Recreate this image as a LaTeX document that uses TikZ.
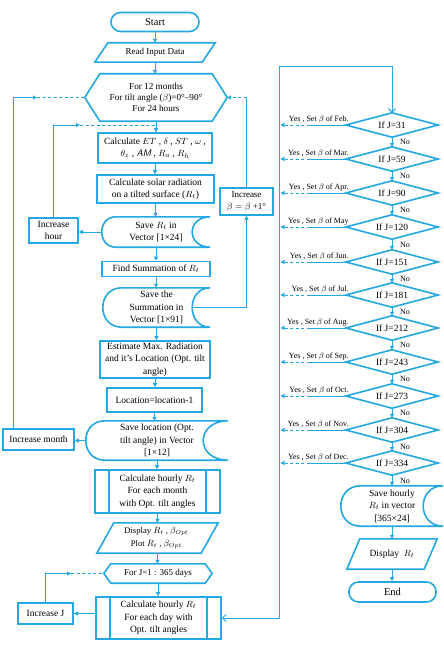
\documentclass[tikz,border=0pt]{standalone}
\usepackage{fontspec}
\setmainfont{Liberation Serif}
\usetikzlibrary{calc,arrows.meta}
\definecolor{fc}{RGB}{35,168,226}
\tikzset{
  shp/.style={draw=fc,line width=1.6pt},
  tx/.style={inner sep=0pt,align=center},
  box/.style={tx,shp},
  term/.style={tx,shp,rounded corners=9.5pt,font=\fontsize{10.5}{12}\selectfont},
  conn/.style={draw=fc,line width=1pt},
  arr/.style={conn,-{Triangle[length=4pt,width=4pt]}},
  dsh/.style={dash pattern=on 3pt off 2.5pt},
  yeslab/.style={inner sep=0pt,font=\fontsize{8}{9}\selectfont},
  nolab/.style={inner sep=0pt,font=\fontsize{8}{9}\selectfont},
}
\newcommand{\hexshape}[2]{\draw[shp] (#1.west) -- ($(#1.north west)+(#2,0)$) -- ($(#1.north east)+(-#2,0)$) -- (#1.east) -- ($(#1.south east)+(-#2,0)$) -- ($(#1.south west)+(#2,0)$) -- cycle;}
\newcommand{\paral}[2]{\draw[shp] (#1.south west) -- ($(#1.north west)+(#2,0)$) -- (#1.north east) -- ($(#1.south east)+(-#2,0)$) -- cycle;}
\newcommand{\storeshape}[3]{\draw[shp] ($(#1.north west)+(#2,0)$) -- (#1.north east) .. controls +(-#3*1.333,0) and +(-#3*1.333,0) .. (#1.south east) -- ($(#1.south west)+(#2,0)$) .. controls +(-#2*1.333,0) and +(-#2*1.333,0) .. ($(#1.north west)+(#2,0)$) -- cycle;}
\newcommand{\procshape}[2]{\draw[shp] ($(#1.north west)+(#2,0)$) -- ($(#1.south west)+(#2,0)$) ($(#1.north east)+(-#2,0)$) -- ($(#1.south east)+(-#2,0)$);}
\newcommand{\diam}[1]{\draw[shp] (#1.west) -- (#1.north) -- (#1.east) -- (#1.south) -- cycle;}
\newcommand{\vdown}[2]{\draw[arr] (#1.south) -- (#1.south |- #2.north);}
\begin{document}
\begin{tikzpicture}[x=1pt,y=-1pt,font=\fontsize{9.5}{12.5}\selectfont]
\useasboundingbox (0,0) rectangle (444,661);
% ---------- left column ----------
\node[term,minimum width=88pt,minimum height=19pt] (start) at (155,22) {Start};
\node[tx,minimum width=120pt,minimum height=19pt,font=\fontsize{9}{11}\selectfont] (read) at (155,52.5) {Read Input Data};
\paral{read}{13}
\node[tx,minimum width=142pt,minimum height=47pt,font=\fontsize{9.2}{10.8}\selectfont] (hex1) at (156,97.5) {For 12 months\\For tilt angle ($\beta$)=0°–90°\\For 24 hours};
\hexshape{hex1}{15}
\node[box,minimum width=114pt,minimum height=30pt] (calc1) at (155,148) {Calculate $ET$ , $\delta$ , $ST$ , $\omega$ ,\\$\theta_z$ , {\sffamily\itshape AM} , $R_a$ , $R_h$};
\node[box,minimum width=117pt,minimum height=28pt] (calc2) at (155.5,189) {Calculate solar radiation\\on a tilted surface ($R_t$)};
\node[tx,minimum width=108pt,minimum height=30pt] (save1) at (156,232) {Save $R_t$ in\\Vector {[1×24]}};
\storeshape{save1}{14}{18}
\node[box,minimum width=49pt,minimum height=25pt] (inchour) at (53.5,230.5) {Increase\\hour};
\node[box,minimum width=53pt,minimum height=27pt,font=\fontsize{9}{12}\selectfont] (incbeta) at (246.5,201.5) {Increase\\$\beta=\beta$ +1°};
\node[box,minimum width=108pt,minimum height=15pt] (findsum) at (156,269) {Find Summation of $R_t$};
\node[tx,minimum width=107pt,minimum height=39pt] (save2) at (156.5,307.5) {Save the\\Summation in\\Vector {[1×91]}};
\storeshape{save2}{19}{18}
\node[box,minimum width=110pt,minimum height=37pt] (estimate) at (155,359.5) {Estimate Max. Radiation\\and it's Location (Opt. tilt\\angle)};
\node[box,minimum width=95pt,minimum height=24pt] (location) at (154.5,400) {Location=location-1};
\node[tx,minimum width=142pt,minimum height=39pt] (save3) at (157,440.5) {Save location (Opt.\\tilt angle) in Vector\\{[1×12]}};
\storeshape{save3}{19}{25}
\node[box,minimum width=71pt,minimum height=21pt] (incmonth) at (38.5,439.5) {Increase month};
\node[box,minimum width=125pt,minimum height=43pt] (proc1) at (157.5,491.5) {Calculate hourly $R_t$\\For each month\\with Opt. tilt angles};
\procshape{proc1}{15}
\node[tx,minimum width=121pt,minimum height=30pt,font=\fontsize{8.6}{13}\selectfont] (disp1) at (157.5,538) {Display $R_t$ , $\beta_{Opt.}$\\Plot $R_t$ , $\beta_{Opt.}$};
\paral{disp1}{17}
\node[tx,minimum width=108pt,minimum height=19pt,font=\fontsize{9}{11}\selectfont] (hexJ) at (158,573.5) {For J=1 : 365 days};
\hexshape{hexJ}{7}
\node[box,minimum width=125pt,minimum height=42pt] (proc2) at (158.5,618) {Calculate hourly $R_t$\\For each day with\\Opt. tilt angles};
\procshape{proc2}{15}
\node[box,minimum width=55pt,minimum height=21pt] (incJ) at (45.5,613.5) {Increase J};
% ---------- right column ----------
\node[tx,minimum width=92pt,minimum height=24pt] (d1) at (392,125) {If J=31};
\node[tx,minimum width=92pt,minimum height=24pt] (d2) at (392,159) {If J=59};
\node[tx,minimum width=92pt,minimum height=24pt] (d3) at (392,193) {If J=90};
\node[tx,minimum width=92pt,minimum height=24pt] (d4) at (392,227) {If J=120};
\node[tx,minimum width=92pt,minimum height=24pt] (d5) at (392,262) {If J=151};
\node[tx,minimum width=92pt,minimum height=24pt] (d6) at (392,295) {If J=181};
\node[tx,minimum width=92pt,minimum height=24pt] (d7) at (392,328) {If J=212};
\node[tx,minimum width=92pt,minimum height=24pt] (d8) at (392,362) {If J=243};
\node[tx,minimum width=92pt,minimum height=24pt] (d9) at (392,396) {If J=273};
\node[tx,minimum width=92pt,minimum height=24pt] (d10) at (392,430) {If J=304};
\node[tx,minimum width=92pt,minimum height=24pt] (d11) at (392,463) {If J=334};
\foreach \i in {1,...,11}{\diam{d\i}}
\node[tx,minimum width=102pt,minimum height=40pt] (save4) at (392,506) {Save hourly\\$R_t$ in vector\\{[365×24]}};
\storeshape{save4}{20}{20}
\node[tx,minimum width=90pt,minimum height=30pt] (disp2) at (392,554) {Display\ \ $R_t$};
\paral{disp2}{13}
\node[term,minimum width=87pt,minimum height=20pt] (end) at (392.5,592) {End};
% ---------- main connectors ----------
\vdown{start}{read}
\vdown{read}{hex1}
\vdown{hex1}{calc1}
\vdown{calc1}{calc2}
\vdown{calc2}{save1}
\vdown{save1}{findsum}
\vdown{findsum}{save2}
\vdown{save2}{estimate}
\vdown{estimate}{location}
\vdown{location}{save3}
\vdown{save3}{proc1}
\vdown{proc1}{disp1}
\vdown{disp1}{hexJ}
\vdown{hexJ}{proc2}
% hour loop
\coordinate (h2) at (80,125);
\draw[arr] (save1.west) -- (save1.west -| inchour.east);
\draw[arr] (inchour.north) |- (h2);
\draw[conn,dsh] (h2) -- (h2 -| hex1.south);
% beta loop
\draw[arr] ($(save2.east)+(-18,0)$) -| (incbeta.south);
\draw[conn] (incbeta.north) -- (incbeta.north |- hex1.east);
\draw[arr,dsh] (incbeta.north |- hex1.east) -- (hex1.east);
% month loop
\coordinate (lx) at (13,439.5);
\coordinate (m2) at (37,97.5);
\draw[arr] (save3.west) -- (save3.west -| incmonth.east);
\draw[arr] (incmonth.north -| lx) |- (m2);
\draw[conn,dsh] (m2) -- (hex1.west);
% J loop
\coordinate (j2) at (71,573.5);
\draw[arr] (incJ.east -| proc2.west) -- (incJ.east);
\draw[arr] (incJ.north) |- (j2);
\draw[conn,dsh] (j2) -- (hexJ.west);
% ---------- right connectors ----------
\coordinate (tl) at (279,67);
\draw[conn,{Straight Barb[length=3.5pt,width=7pt]}-{Straight Barb[length=3.5pt,width=7pt]}] (proc2.east) -| (tl) -| (d1.north);
\foreach \i/\m in {1/Feb.,2/Mar.,3/Apr.,4/May,5/Jun.,6/Jul.,7/Aug.,8/Sep.,9/Oct.,10/Nov.,11/Dec.}{
  \draw[conn] (d\i.west) -- ++(-36,0) coordinate (ys\i);
  \draw[arr,dsh] (ys\i) -- ($(ys\i -| tl)+(1.5,0)$);
  \node[yeslab,anchor=base east] at ($(d\i.west)+(3,-4)$) {Yes , Set $\beta$ of \m};
}
\foreach \i in {1,...,10}{
  \pgfmathtruncatemacro{\j}{\i+1}
  \draw[arr] (d\i.south) -- (d\j.north);
  \node[nolab,anchor=west] at ($(d\i.south)!0.5!(d\j.north)+(8,0)$) {No};
}
\draw[arr] (d11.south) -- (save4.north);
\node[nolab,anchor=west] at ($(d11.south)!0.5!(save4.north)+(8,0)$) {No};
\vdown{save4}{disp2}
\vdown{disp2}{end}
\end{tikzpicture}
\end{document}
